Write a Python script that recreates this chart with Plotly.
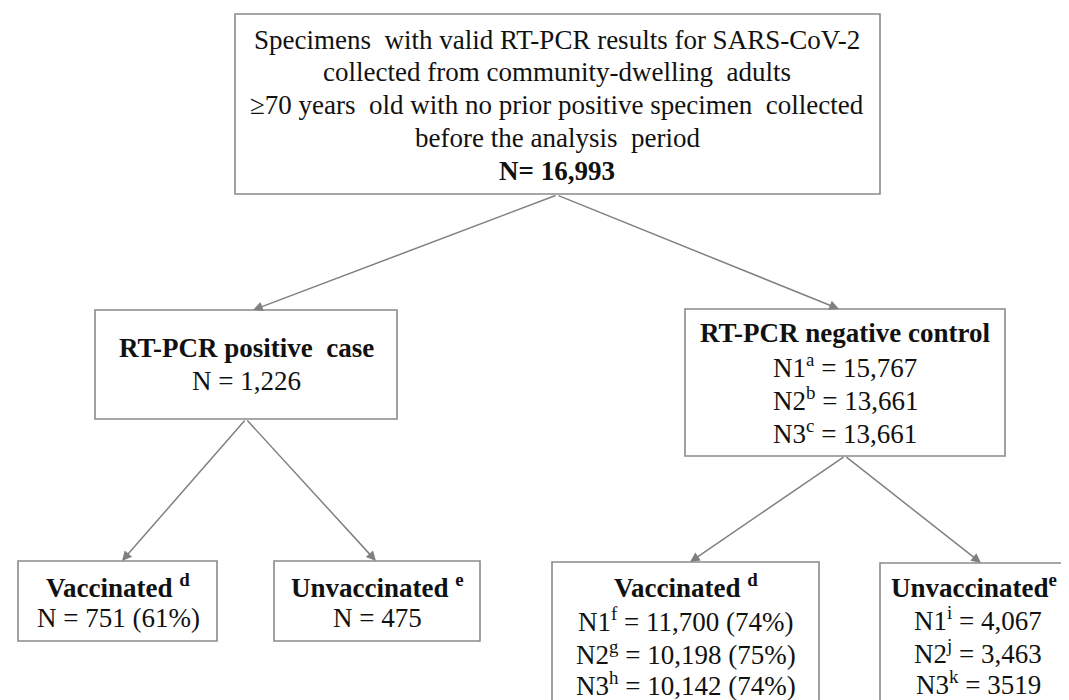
import plotly.graph_objects as go

# ---- data ----
total_n = "16,993"
positive_n = "1,226"
negative_n = ["15,767", "13,661", "13,661"]
negative_sup = ["a", "b", "c"]
pos_vacc_n = "751 (61%)"
pos_unvacc_n = "475"
neg_vacc_n = ["11,700 (74%)", "10,198 (75%)", "10,142 (74%)"]
neg_vacc_sup = ["f", "g", "h"]
neg_unvacc_n = ["4,067", "3,463", "3519"]
neg_unvacc_sup = ["i", "j", "k"]
top_lines = [
    "Specimens\u00a0 with valid RT-PCR results for SARS-CoV-2",
    "collected from community-dwelling\u00a0 adults",
    "\u226570 years\u00a0 old with no prior positive specimen\u00a0 collected",
    "before the analysis\u00a0 period",
]

FONT = "Liberation Serif"
FS = 27
BORDER = "#8a8a8a"
ARROW = "#808080"

fig = go.Figure()

boxes = [
    (227, 6, 872, 186),
    (87, 302, 389, 411),
    (677, 301, 997, 448),
    (10, 553, 209, 633),
    (266, 553, 472, 633),
    (544, 554, 811, 710),
    (872, 555, 1080, 710),
]
for x0, y0, x1, y1 in boxes:
    fig.add_shape(type="rect", x0=x0, y0=y0, x1=x1, y1=y1,
                  line=dict(color=BORDER, width=1.6), fillcolor="white", layer="below")

anns = []
def txt(x, y, s):
    anns.append(dict(x=x, y=y, text=s, showarrow=False, xanchor="center", yanchor="middle",
                     font=dict(family=FONT, size=FS, color="#111111")))

# top box
top_y = [32, 64, 97, 130]
for yy, s in zip(top_y, top_lines):
    txt(549, yy, s)
txt(549, 163, f"<b>N= {total_n}</b>")

# positive case
txt(238, 340, "<b>RT-PCR positive\u00a0 case</b>")
txt(238, 373, f"N = {positive_n}")

# negative control
txt(837, 325, "<b>RT-PCR negative control</b>")
for i, (yy, sup, n) in enumerate(zip([358, 391, 424], negative_sup, negative_n)):
    txt(837, yy, f"N{i+1}<sup>{sup}</sup> = {n}")

# positive vaccinated / unvaccinated
txt(110, 578, "<b>Vaccinated <sup>d</sup></b>")
txt(110, 610, f"N = {pos_vacc_n}")
txt(369, 578, "<b>Unvaccinated <sup>e</sup></b>")
txt(369, 610, f"N = {pos_unvacc_n}")

# negative vaccinated
txt(678, 578, "<b>Vaccinated <sup>d</sup></b>")
for i, (yy, sup, n) in enumerate(zip([612, 645, 676], neg_vacc_sup, neg_vacc_n)):
    txt(678, yy, f"N{i+1}<sup>{sup}</sup> = {n}")

# negative unvaccinated
txt(966, 578, "<b>Unvaccinated<sup>e</sup></b>")
for i, (yy, sup, n) in enumerate(zip([611, 644, 675], neg_unvacc_sup, neg_unvacc_n)):
    txt(970, yy, f"N{i+1}<sup>{sup}</sup> = {n}")

# connectors (tail -> head)
arrows = [
    ((549, 187), (245, 302)),
    ((549, 187), (831, 301)),
    ((238, 411), (114, 553)),
    ((238, 411), (368, 553)),
    ((837, 448), (682, 554)),
    ((837, 448), (973, 555)),
]
for (tx, ty), (hx, hy) in arrows:
    anns.append(dict(x=hx, y=hy, ax=tx, ay=ty, xref="x", yref="y", axref="x", ayref="y",
                     text="", showarrow=True, arrowhead=2, arrowsize=1.3, arrowwidth=1.5,
                     arrowcolor=ARROW, standoff=0, startstandoff=0))

fig.update_layout(
    width=1069, height=700,
    margin=dict(l=0, r=0, t=0, b=0),
    paper_bgcolor="white", plot_bgcolor="white",
    xaxis=dict(range=[0, 1069], visible=False, fixedrange=True),
    yaxis=dict(range=[700, 0], visible=False, fixedrange=True),
    annotations=anns,
    showlegend=False,
)
fig.write_html("out.html")
